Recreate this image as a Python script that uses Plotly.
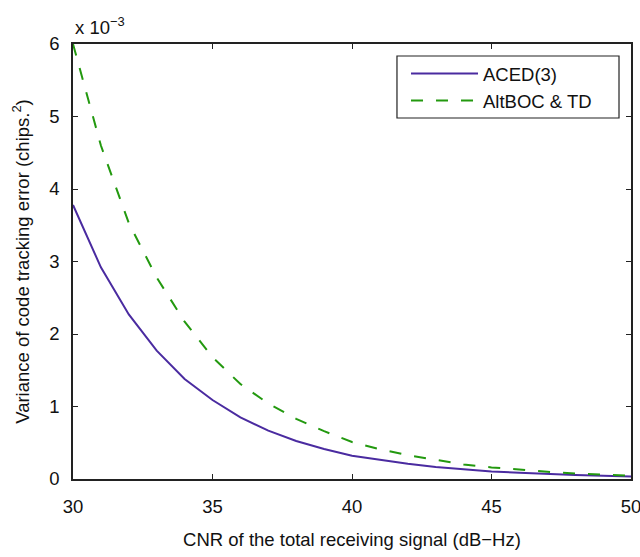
import plotly.graph_objects as go

cnr_dbhz = list(range(30, 51))
# variance in units of 1e-3 chips^2
aced3 = [3.78, 2.92, 2.27, 1.77, 1.38, 1.09, 0.85, 0.667, 0.524, 0.414, 0.32,
         0.26, 0.21, 0.165, 0.13, 0.105, 0.085, 0.068, 0.055, 0.045, 0.035]
altboc_td = [6.0, 4.6, 3.53, 2.78, 2.17, 1.68, 1.31, 1.04, 0.83, 0.66, 0.51,
             0.41, 0.33, 0.26, 0.2, 0.16, 0.125, 0.1, 0.075, 0.06, 0.045]
x_ticks = [30, 35, 40, 45, 50]
y_ticks = [0, 1, 2, 3, 4, 5, 6]

FONT = "Liberation Sans, Arial, sans-serif"
FS = 18.5

fig = go.Figure()
fig.add_trace(go.Scatter(x=cnr_dbhz, y=aced3, mode="lines", name="ACED(3)",
                         line=dict(color="#4a2ba0", width=2)))
fig.add_trace(go.Scatter(x=cnr_dbhz, y=altboc_td, mode="lines", name="AltBOC &amp; TD",
                         line=dict(color="#23990f", width=2, dash="12px,13px")))

axis_common = dict(showline=True, linecolor="#222", linewidth=1.5, mirror="ticks",
                   ticks="inside", ticklen=5, tickcolor="#222", showgrid=False,
                   zeroline=False, automargin=False, ticklabeloverflow="allow",
                   tickfont=dict(family=FONT, size=FS, color="#111"))

fig.update_layout(
    width=640, height=557,
    margin=dict(l=73, r=9, t=44, b=78),
    paper_bgcolor="white", plot_bgcolor="white",
    font=dict(family=FONT, size=FS, color="#111"),
    xaxis=dict(range=[30, 50], tickvals=x_ticks, ticklabelstandoff=10,
               title=dict(text="CNR of the total receiving signal (dB\u2212Hz)",
                          font=dict(size=FS), standoff=17),
               **axis_common),
    yaxis=dict(range=[0, 6], tickvals=y_ticks, ticklabelstandoff=8,
               title=dict(text="Variance of code tracking error (chips.<sup>2</sup>)",
                          font=dict(size=FS), standoff=15),
               **axis_common),
    legend=dict(x=0.5968, y=0.975, xanchor="left", yanchor="top",
                bgcolor="rgba(0,0,0,0)", borderwidth=0,
                font=dict(family=FONT, size=FS), itemwidth=67),
    showlegend=True,
)
# legend frame
fig.add_shape(type="rect", xref="paper", yref="paper",
              x0=0.5806, x1=0.9785, y0=0.8299, y1=0.9724,
              line=dict(color="#222", width=1.2), fillcolor="white", layer="above")
fig.add_annotation(text="x 10<sup>\u22123</sup>", xref="paper", yref="paper",
                   x=0, y=1, xanchor="left", yanchor="bottom", yshift=4,
                   showarrow=False, font=dict(family=FONT, size=FS, color="#111"))

fig.write_html("out.html")
